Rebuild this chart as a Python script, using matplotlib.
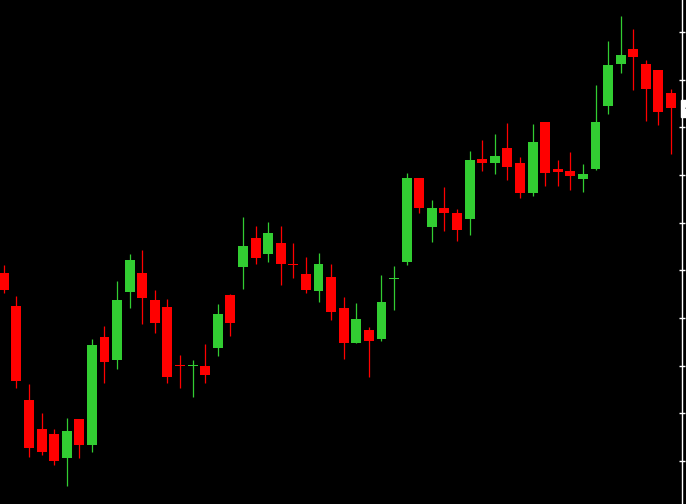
import matplotlib.pyplot as plt
import numpy as np

# OHLC price data, one entry per candle
opens = [4697, 4663, 4564, 4534, 4528, 4503, 4544, 4517, 4630, 4606,
         4677, 4697, 4669, 4662, 4601, 4600, 4600, 4619, 4674, 4703,
         4734, 4717, 4729, 4707, 4696, 4678, 4693, 4660, 4624, 4637,
         4628, 4691, 4709, 4797, 4745, 4765, 4760, 4754, 4817, 4813,
         4828, 4813, 4781, 4856, 4806, 4804, 4796, 4806, 4872, 4916,
         4932, 4916, 4910, 4886]
highs = [4706, 4673, 4581, 4550, 4534, 4545, 4544, 4628, 4642, 4689,
         4717, 4721, 4679, 4670, 4611, 4606, 4623, 4665, 4675, 4756,
         4746, 4751, 4746, 4729, 4714, 4718, 4707, 4672, 4666, 4641,
         4695, 4705, 4802, 4797, 4774, 4787, 4764, 4825, 4837, 4843,
         4855, 4819, 4853, 4856, 4816, 4824, 4812, 4894, 4941, 4967,
         4953, 4921, 4910, 4890]
lows = [4676, 4577, 4504, 4506, 4496, 4474, 4503, 4509, 4582, 4596,
        4660, 4644, 4634, 4582, 4577, 4567, 4582, 4610, 4631, 4680,
        4707, 4709, 4685, 4692, 4676, 4667, 4648, 4607, 4624, 4588,
        4626, 4658, 4706, 4760, 4730, 4741, 4731, 4737, 4804, 4801,
        4795, 4776, 4778, 4788, 4788, 4784, 4782, 4805, 4864, 4907,
        4889, 4857, 4852, 4822]
closes = [4679, 4584, 4514, 4509, 4500, 4531, 4517, 4622, 4604, 4669,
          4711, 4671, 4645, 4588, 4600, 4601, 4590, 4654, 4645, 4726,
          4713, 4739, 4707, 4706, 4679, 4707, 4656, 4624, 4649, 4626,
          4667, 4692, 4797, 4765, 4765, 4760, 4742, 4816, 4813, 4820,
          4808, 4781, 4835, 4802, 4803, 4799, 4801, 4856, 4915, 4926,
          4924, 4890, 4866, 4870]
price_ticks = [4500, 4550, 4600, 4650, 4700, 4750, 4800, 4850, 4900, 4950]

up_color = '#32CD32'
down_color = '#FF0000'

fig = plt.figure(figsize=(6.86, 5.04), dpi=100, facecolor='black')
ax = fig.add_axes([0, 0, 682 / 686, 1])
ax.set_facecolor('black')

idx = np.arange(len(opens))
o = np.array(opens, dtype=float)
h = np.array(highs, dtype=float)
l = np.array(lows, dtype=float)
c = np.array(closes, dtype=float)
colors = [up_color if cc >= oo else down_color for oo, cc in zip(o, c)]

# wicks
ax.vlines(idx, l, h, colors=colors, linewidth=0.9)
# bodies (dojis get a thin line)
bottoms = np.minimum(o, c)
heights = np.maximum(np.abs(c - o), 1.0)
ax.bar(idx, heights, bottom=bottoms, width=0.79, color=colors, linewidth=0)

ax.set_xlim(-0.30, 53.87)
ax.set_ylim(4454.9, 4983.5)

# price axis on the right, labels mostly cut off
ax.yaxis.tick_right()
ax.set_yticks(price_ticks)
ax.set_yticklabels([str(t) for t in price_ticks])
ax.tick_params(axis='y', direction='inout', length=5, width=1, colors='white',
               labelcolor='#5a7fd8', labelsize=8, pad=1)
ax.set_xticks([])
for side in ['left', 'top', 'bottom']:
    ax.spines[side].set_visible(False)
ax.spines['right'].set_color('white')
ax.spines['right'].set_linewidth(1.0)

# current price label
ax.text(1.004, closes[-1], str(closes[-1]), transform=ax.get_yaxis_transform(),
        va='center', ha='left', fontsize=8, color='black', clip_on=False,
        bbox=dict(boxstyle='square,pad=0.3', fc='white', ec='white'))

fig.savefig('out.png', dpi=100, facecolor='black')
